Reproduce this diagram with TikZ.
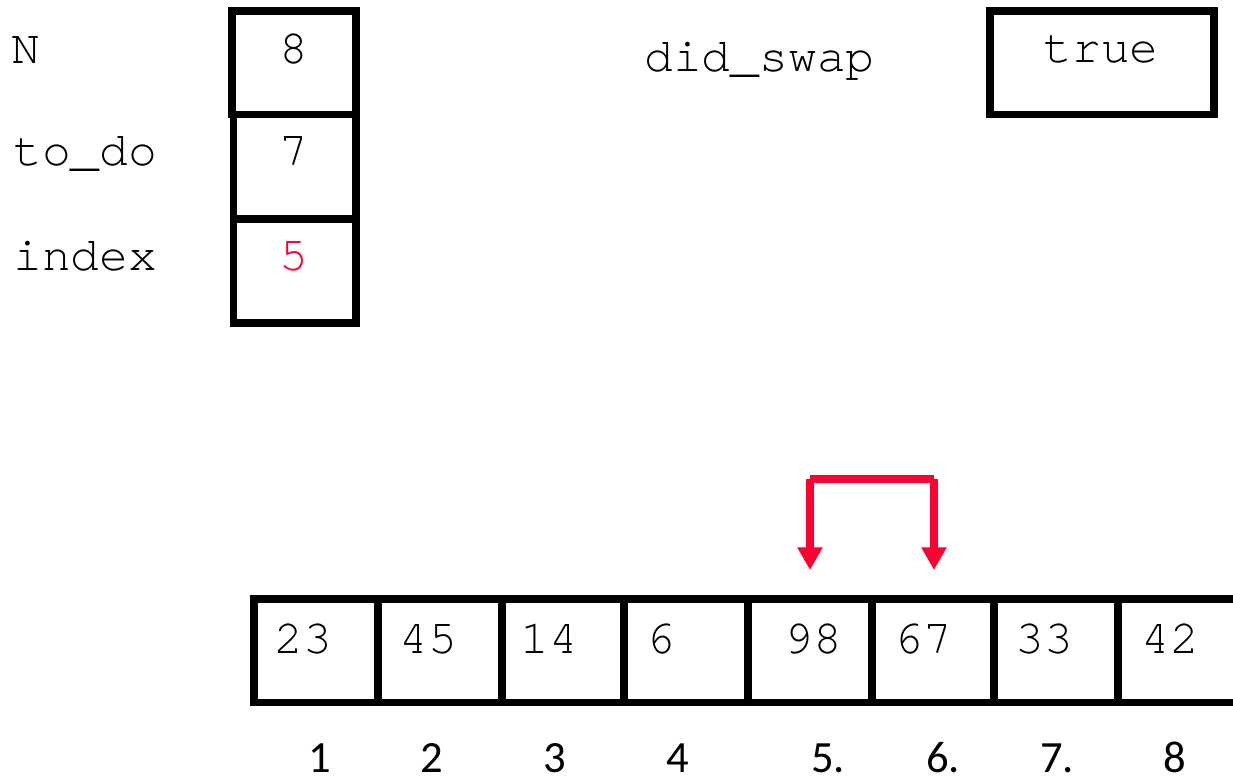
\documentclass[tikz,border=0pt]{standalone}
\usepackage{fontspec}
\setmainfont{Liberation Serif}
\setmonofont{TeX Gyre Cursor}
\newfontfamily\idxfont{Carlito}
\usetikzlibrary{arrows.meta}
\definecolor{swapred}{RGB}{255,0,51}
\begin{document}
\begin{tikzpicture}[x=0.75pt,y=-0.75pt,
  boxline/.style={draw=black,line width=5.6pt,line join=miter},
  varlabel/.style={inner sep=0pt,anchor=base west,font=\ttfamily\fontsize{36}{40}\selectfont},
  boxval/.style={inner sep=0pt,anchor=base,font=\ttfamily\fontsize{36}{40}\selectfont},
  cellval/.style={inner sep=0pt,anchor=base west,font=\ttfamily\fontsize{36}{40}\selectfont},
  idxlabel/.style={inner sep=0pt,anchor=base,font=\idxfont\fontsize{33.5}{38}\selectfont},
  redline/.style={draw=swapred,line width=6pt},
  redarrow/.style={draw=swapred,line width=6pt,-{Triangle[width=18pt,length=17pt]}}]
\useasboundingbox (0,0) rectangle (1233,778);

% variable boxes
\draw[boxline] (232,11) rectangle (356,114.5);
\draw[boxline] (233.5,114.5) rectangle (356,219);
\draw[boxline] (233.5,219) rectangle (356,323);
\draw[boxline] (990,11) rectangle (1214,114.5);

% labels
\node[varlabel] (lN) at (11,63) {N};
\node[varlabel] (ltodo) at (13,165) {to\_do};
\node[varlabel] (lindex) at (13,270) {index};
\node[varlabel] (lswap) at (644,71) {did\_swap};

% values
\node[boxval] (vN) at (294,63) {8};
\node[boxval] (vtodo) at (294,165) {7};
\node[boxval,text=swapred] (vindex) at (294,270) {5};
\node[boxval] (vswap) at (1101,62) {true};

% array
\draw[boxline] (1233,599) -- (254,599) -- (254,702.5) -- (1233,702.5);
\foreach \x in {378,502,624,748,872,994,1118}
  \draw[boxline] (\x,599) -- (\x,702.5);

\node[cellval] (c1) at (274,653) {23};
\node[cellval] (c2) at (399,653) {45};
\node[cellval] (c3) at (520,653) {14};
\node[cellval] (c4) at (646,653) {6};
\node[cellval] (c5) at (784,653) {98};
\node[cellval] (c6) at (894,653) {67};
\node[cellval] (c7) at (1015,653) {33};
\node[cellval] (c8) at (1141,653) {42};

% indices
\node[idxlabel] (i1) at (320,772) {1};
\node[idxlabel] (i2) at (432,772) {2};
\node[idxlabel] (i3) at (555,772) {3};
\node[idxlabel] (i4) at (678,772) {4};
\node[idxlabel] (i5) at (828,772) {5.};
\node[idxlabel] (i6) at (943,772) {6.};
\node[idxlabel] (i7) at (1057,772) {7.};
\node[idxlabel] (i8) at (1175,772) {8};

% swap arrow
\coordinate (tl) at (810,479);
\coordinate (tr) at (934,479);
\coordinate (pl) at (810,570);
\coordinate (pr) at (934,570);
\draw[redline] (tl) -- (tr);
\draw[redarrow] (tl) -- (pl);
\draw[redarrow] (tr) -- (pr);
\end{tikzpicture}
\end{document}
